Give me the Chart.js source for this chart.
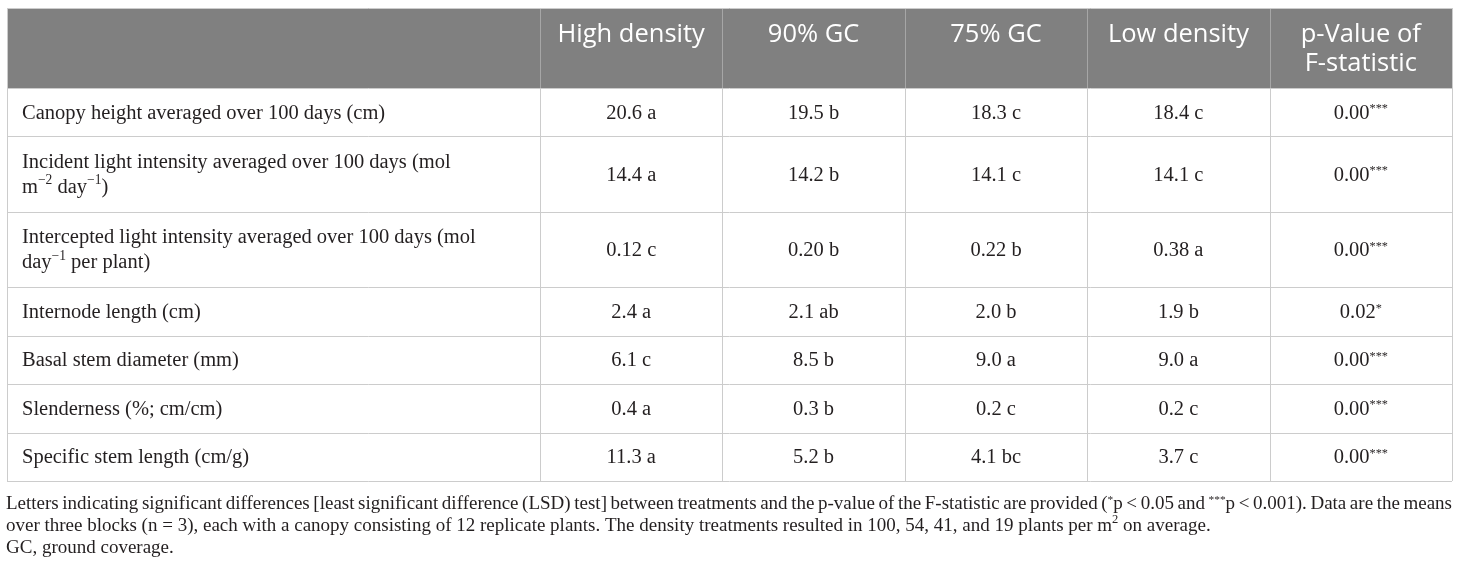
<!DOCTYPE html>
<html>
<head>
<meta charset="utf-8">
<script src="https://cdn.jsdelivr.net/npm/chart.js@4.4.1/dist/chart.umd.min.js"></script>
<style>
  html, body { margin: 0; padding: 0; background: #fff; }
  canvas { display: block; }
</style>
</head>
<body>
<canvas id="tbl" width="1460" height="568"></canvas>
<script>
// ---- table data ----
const columns = ['High density', '90% GC', '75% GC', 'Low density', 'p-Value of\nF-statistic'];
const traits = [
  'Canopy height averaged over 100 days (cm)',
  'Incident light intensity averaged over 100 days (mol\nm^{\u22122} day^{\u22121})',
  'Intercepted light intensity averaged over 100 days (mol\nday^{\u22121} per plant)',
  'Internode length (cm)',
  'Basal stem diameter (mm)',
  'Slenderness (%; cm/cm)',
  'Specific stem length (cm/g)'
];
const decimals = [1, 1, 2, 1, 1, 1, 1];

const highDensity       = [20.6, 14.4, 0.12, 2.4, 6.1, 0.4, 11.3];
const highDensityLetter = ['a', 'a', 'c', 'a', 'c', 'a', 'a'];
const gc90              = [19.5, 14.2, 0.20, 2.1, 8.5, 0.3, 5.2];
const gc90Letter        = ['b', 'b', 'b', 'ab', 'b', 'b', 'b'];
const gc75              = [18.3, 14.1, 0.22, 2.0, 9.0, 0.2, 4.1];
const gc75Letter        = ['c', 'c', 'b', 'b', 'a', 'c', 'bc'];
const lowDensity        = [18.4, 14.1, 0.38, 1.9, 9.0, 0.2, 3.7];
const lowDensityLetter  = ['c', 'c', 'a', 'b', 'a', 'c', 'c'];
const pValue            = [0.00, 0.00, 0.00, 0.02, 0.00, 0.00, 0.00];
const pStars            = ['***', '***', '***', '*', '***', '***', '***'];

const footnote = [
  'Letters indicating significant differences [least significant difference (LSD) test] between treatments and the p-value of the F-statistic are provided (^{*}p < 0.05 and ^{***}p < 0.001). Data are the means',
  'over three blocks (n = 3), each with a canopy consisting of 12 replicate plants. The density treatments resulted in 100, 54, 41, and 19 plants per m^{2} on average.',
  'GC, ground coverage.'
];

// ---- look ----
const HEAD_BG = '#808080';
const HEAD_SEP = '#a6a6a6';
const LINE = '#cccccc';
const INK = '#231f20';
const HEAD_FONT = '25.5px "Open Sans"';
const BODY_PX = 20.5;
const FOOT_PX = 19;
const SERIF = '"Liberation Serif", "DejaVu Serif", serif';
const TABLE_LEFT = 7, TABLE_TOP = 8;

// rich text: "^{...}" marks superscript
function parseRich(s) {
  const out = []; const re = /\^\{([^}]*)\}/g; let last = 0, m;
  while ((m = re.exec(s))) {
    if (m.index > last) out.push({ t: s.slice(last, m.index), sup: false });
    out.push({ t: m[1], sup: true });
    last = re.lastIndex;
  }
  if (last < s.length) out.push({ t: s.slice(last), sup: false });
  return out;
}
function isStars(t) { return /^\*+$/.test(t); }
function fontOf(px, seg) { return (seg.sup ? px * (isStars(seg.t) ? 0.6 : 0.66) : px) + 'px ' + SERIF; }
function richWidth(ctx, s, px) {
  return parseRich(s).reduce((w, seg) => { ctx.font = fontOf(px, seg); return w + ctx.measureText(seg.t).width; }, 0);
}
function drawRich(ctx, s, x, y, px, align) {
  let cx = align === 'center' ? x - richWidth(ctx, s, px) / 2 : x;
  ctx.textAlign = 'left'; ctx.textBaseline = 'middle';
  parseRich(s).forEach(seg => {
    ctx.font = fontOf(px, seg);
    const lift = seg.sup ? px * (isStars(seg.t) ? 0.2 : 0.33) : 0;
    ctx.fillText(seg.t, cx, y - lift);
    cx += ctx.measureText(seg.t).width;
  });
}
function drawJustified(ctx, s, x0, x1, y, px) {
  const words = s.split(' ');
  const ws = words.map(w => richWidth(ctx, w, px));
  const sum = ws.reduce((a, b) => a + b, 0);
  let gap = (x1 - x0 - sum) / (words.length - 1);
  let sx = 1;
  if (gap < 3) { gap = 3; sx = (x1 - x0) / (sum + gap * (words.length - 1)); }
  ctx.save();
  ctx.translate(x0, 0); ctx.scale(sx, 1);
  let cx = 0;
  words.forEach((w, i) => { drawRich(ctx, w, cx, y, px, 'left'); cx += ws[i] + gap; });
  ctx.restore();
}

// row heights follow the number of text lines in the label
const rowUnits = traits.map(t => 21.5 + 27 * t.split('\n').length);
const rowEdges = [0];
rowUnits.forEach(u => rowEdges.push(rowEdges[rowEdges.length - 1] + u));
const rowCenters = rowUnits.map((u, i) => rowEdges[i] + u / 2);

function cellSet(label, means, letters) {
  return {
    label,
    data: rowCenters.map(c => ({ x: label, y: c })),
    cellText: means.map((v, i) => v.toFixed(decimals[i]) + ' ' + letters[i]),
    pointRadius: 0
  };
}
const pSet = {
  label: columns[4],
  data: rowCenters.map(c => ({ x: columns[4], y: c })),
  cellText: pValue.map((v, i) => v.toFixed(2) + '^{' + pStars[i] + '}'),
  pointRadius: 0
};

const tablePlugin = {
  id: 'tableCells',
  beforeDraw(chart) {
    const { ctx, chartArea: a } = chart;
    ctx.save();
    ctx.fillStyle = HEAD_BG;
    ctx.fillRect(TABLE_LEFT, TABLE_TOP, a.right - TABLE_LEFT, a.top - TABLE_TOP);
    ctx.restore();
  },
  afterDatasetsDraw(chart) {
    const { ctx, chartArea: a, scales: { x, y } } = chart;
    const ticks = columns.map((c, i) => x.getPixelForTick(i));
    const half = (ticks[1] - ticks[0]) / 2;
    const colEdges = [TABLE_LEFT].concat(ticks.map(t => t - half), [a.right]);
    ctx.save();

    // header separators
    ctx.strokeStyle = HEAD_SEP; ctx.lineWidth = 1;
    colEdges.slice(1, -1).forEach(e => {
      const px = Math.round(e) + 0.5;
      ctx.beginPath(); ctx.moveTo(px, TABLE_TOP); ctx.lineTo(px, a.top); ctx.stroke();
    });

    // body grid
    ctx.strokeStyle = LINE;
    rowEdges.forEach(v => {
      const py = Math.round(y.getPixelForValue(v)) + 0.5;
      ctx.beginPath(); ctx.moveTo(TABLE_LEFT, py); ctx.lineTo(a.right, py); ctx.stroke();
    });
    colEdges.forEach(e => {
      const px = Math.round(e) + 0.5;
      ctx.beginPath(); ctx.moveTo(px, a.top); ctx.lineTo(px, a.bottom); ctx.stroke();
    });
    ctx.beginPath(); ctx.moveTo(TABLE_LEFT, TABLE_TOP + 0.5); ctx.lineTo(a.right, TABLE_TOP + 0.5); ctx.stroke();
    [TABLE_LEFT, a.right].forEach(e => {
      const px = Math.round(e) + 0.5;
      ctx.beginPath(); ctx.moveTo(px, TABLE_TOP); ctx.lineTo(px, a.top); ctx.stroke();
    });

    // header text
    ctx.fillStyle = '#ffffff'; ctx.font = HEAD_FONT;
    ctx.textAlign = 'center'; ctx.textBaseline = 'middle';
    columns.forEach((c, i) => {
      c.split('\n').forEach((ln, k) => ctx.fillText(ln, ticks[i], TABLE_TOP + 27 + k * 29));
    });

    // row labels
    ctx.fillStyle = INK;
    traits.forEach((t, i) => {
      const lines = t.split('\n');
      const cy = y.getPixelForValue(rowCenters[i]) + 1;
      lines.forEach((ln, k) => drawRich(ctx, ln, TABLE_LEFT + 15, cy + (k - (lines.length - 1) / 2) * 25, BODY_PX, 'left'));
    });

    // cell values at the points placed by the scales
    chart.data.datasets.forEach((ds, di) => {
      chart.getDatasetMeta(di).data.forEach((el, i) => {
        drawRich(ctx, ds.cellText[i], el.x, el.y + 1, BODY_PX, 'center');
      });
    });

    // footnote
    const fy = a.bottom + 23;
    drawJustified(ctx, footnote[0], TABLE_LEFT - 1, a.right, fy, FOOT_PX);
    drawRich(ctx, footnote[1], TABLE_LEFT - 1, fy + 22, FOOT_PX, 'left');
    drawRich(ctx, footnote[2], TABLE_LEFT - 1, fy + 44, FOOT_PX, 'left');
    ctx.restore();
  }
};

new Chart(document.getElementById('tbl').getContext('2d'), {
  type: 'scatter',
  data: {
    labels: columns,
    datasets: [
      cellSet(columns[0], highDensity, highDensityLetter),
      cellSet(columns[1], gc90, gc90Letter),
      cellSet(columns[2], gc75, gc75Letter),
      cellSet(columns[3], lowDensity, lowDensityLetter),
      pSet
    ]
  },
  options: {
    responsive: false,
    animation: false,
    layout: { padding: { left: 540, right: 8, top: 88, bottom: 87 } },
    plugins: { legend: { display: false }, tooltip: { enabled: false } },
    scales: {
      x: { type: 'category', labels: columns, offset: true, display: false },
      y: { type: 'linear', min: 0, max: rowEdges[rowEdges.length - 1], reverse: true, display: false }
    }
  },
  plugins: [tablePlugin]
});
</script>
</body>
</html>
